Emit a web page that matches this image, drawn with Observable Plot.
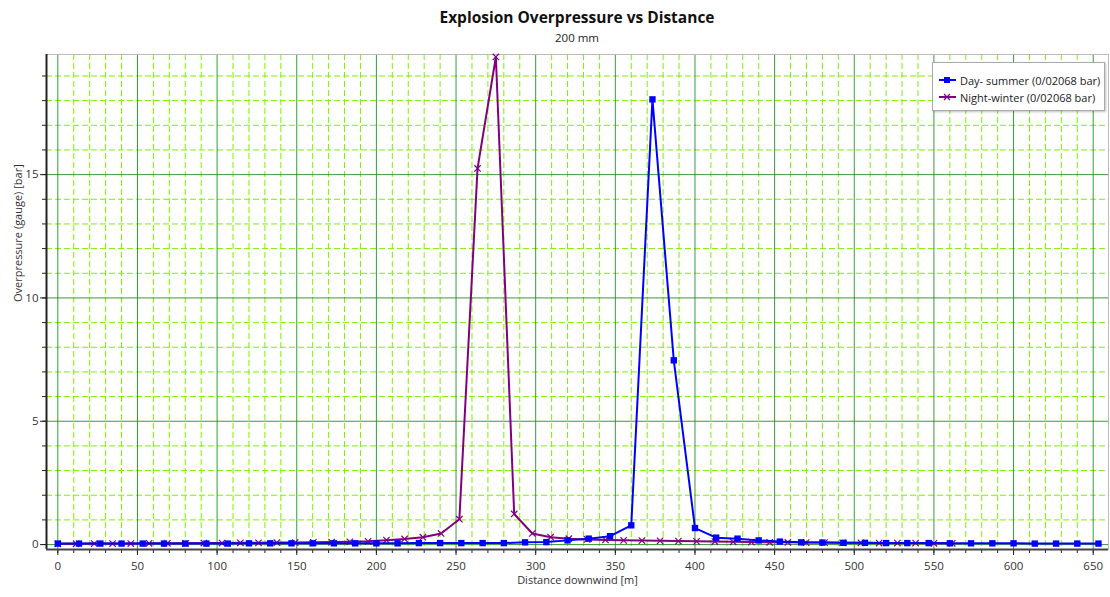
<!DOCTYPE html>
<html>
<head>
<meta charset="utf-8">
<script src="https://cdn.jsdelivr.net/npm/d3@7"></script>
<script src="https://cdn.jsdelivr.net/npm/@observablehq/plot@0.6"></script>
<style>
  html, body { margin: 0; padding: 0; background: #fff; }
  #wrap { position: relative; width: 1110px; height: 597px; font-family: "Open Sans", "Noto Sans", sans-serif; }
  #title { position: absolute; left: 46px; width: 1062px; top: 6px; text-align: center; font-weight: 700; font-size: 15.5px; color: #111; line-height: 22px; }
  #subtitle { position: absolute; left: 46px; width: 1062px; top: 30px; text-align: center; font-size: 11.5px; color: #222; line-height: 16px; }
  #chart { position: absolute; left: 0; top: 48px; }
  #legend { position: absolute; left: 932px; top: 62px; width: 171px; height: 47px; border: 1px solid #aaa; background: #fff; box-shadow: 1px 1px 2px rgba(0,0,0,0.25); font-size: 11px; color: #222; }
  .item { position: absolute; left: 6px; height: 16px; display: flex; align-items: center; }
  .item svg { margin-right: 4px; }
</style>
</head>
<body>
<div id="wrap">
  <div id="title"></div>
  <div id="subtitle"></div>
  <div id="chart"></div>
  <div id="legend"></div>
</div>
<script>
const titleText = "Explosion Overpressure vs Distance";
const subtitleText = "200 mm";
const xLabel = "Distance downwind [m]";
const yLabel = "Overpressure (gauge) [bar]";
const seriesNames = ["Day- summer (0/02068 bar)", "Night-winter (0/02068 bar)"];
const seriesColors = ["#0000ff", "#800080"];

const xDay = [0,13.3,26.7,40,53.3,66.7,80,93.3,106.7,120,133.3,146.7,160,173.3,186.7,200,213.3,226.7,240,253.3,266.7,280,293.3,306.7,320,333.3,346.7,360,373.3,386.7,400,413.3,426.7,440,453.3,466.7,480,493.3,506.7,520,533.3,546.7,560,573.3,586.7,600,613.3,626.7,640,653.3];
const yDay = [0.04,0.04,0.04,0.04,0.04,0.04,0.04,0.04,0.04,0.05,0.05,0.05,0.05,0.05,0.05,0.05,0.05,0.06,0.06,0.06,0.06,0.06,0.09,0.1,0.17,0.24,0.34,0.78,18.05,7.47,0.67,0.28,0.24,0.17,0.12,0.09,0.08,0.07,0.07,0.06,0.06,0.06,0.05,0.05,0.05,0.05,0.04,0.04,0.04,0.04];

const xNight = [0,11.5,22.9,34.4,45.8,57.3,68.8,80.2,91.7,103.1,114.6,126,137.5,149,160.4,171.9,183.3,194.8,206.3,217.7,229.2,240.6,252.1,263.5,275,286.5,297.9,309.4,320.8,332.3,343.8,355.2,366.7,378.1,389.6,401,412.5,424,435.4,446.9,458.3,469.8,481.3,492.7,504.2,515.6,527.1,538.5,550,561.5];
const yNight = [0.03,0.03,0.04,0.04,0.04,0.05,0.05,0.05,0.06,0.06,0.07,0.07,0.08,0.08,0.09,0.1,0.11,0.13,0.18,0.23,0.3,0.45,1.03,15.25,19.77,1.24,0.45,0.3,0.24,0.21,0.19,0.17,0.16,0.15,0.14,0.13,0.12,0.11,0.1,0.09,0.09,0.08,0.08,0.07,0.07,0.06,0.06,0.06,0.05,0.05];

const xTicks = [0,50,100,150,200,250,300,350,400,450,500,550,600,650];
const yTicks = [0,5,10,15];
const xDomain = [-7.1, 659.6];
const yDomain = [-0.2, 19.87];

const day = xDay.map((x, i) => ({x, y: yDay[i]}));
const night = xNight.map((x, i) => ({x, y: yNight[i]}));

const xMinor = d3.range(0, 660, 10).filter(v => v % 50 !== 0);
const yMinor = d3.range(0, 20, 1).filter(v => v % 5 !== 0);
const xAllTicks = d3.range(0, 660, 10);
const yAllTicks = d3.range(0, 20, 1);

document.getElementById("title").textContent = titleText;
document.getElementById("subtitle").textContent = subtitleText;

const chart = Plot.plot({
  width: 1110,
  height: 549,
  marginTop: 6,
  marginBottom: 48,
  marginLeft: 46,
  marginRight: 2,
  style: { fontFamily: "'Open Sans', 'Noto Sans', sans-serif", fontSize: "11px", color: "#333", background: "white" },
  x: { domain: xDomain, label: null },
  y: { domain: yDomain, label: null },
  marks: [
    Plot.ruleX(xMinor, { stroke: "#7ff000", strokeWidth: 1, strokeDasharray: "6,3" }),
    Plot.ruleY(yMinor, { stroke: "#7ff000", strokeWidth: 1, strokeDasharray: "6,3" }),
    Plot.ruleX(xTicks, { stroke: "#168a16", strokeWidth: 1, strokeOpacity: 0.85 }),
    Plot.ruleY(yTicks, { stroke: "#168a16", strokeWidth: 1, strokeOpacity: 0.85 }),
    Plot.frame({ stroke: "#bbb" }),
    Plot.axisX(xAllTicks, { tickSize: 4, text: null, stroke: "#222" }),
    Plot.axisX(xTicks, { tickSize: 6, tickPadding: 6, stroke: "#222", fill: "#333", label: null, fontSize: 11.5 }),
    Plot.axisY(yAllTicks, { tickSize: 4, text: null, stroke: "#222" }),
    Plot.axisY(yTicks, { tickSize: 6, tickPadding: 2, stroke: "#222", fill: "#333", label: null, fontSize: 11.5 }),
    Plot.ruleX([xDomain[0]], { stroke: "#222", strokeWidth: 2 }),
    Plot.ruleY([yDomain[0]], { stroke: "#444", strokeWidth: 2 }),
    Plot.line(night, { x: "x", y: "y", stroke: seriesColors[1], strokeWidth: 2 }),
    Plot.dot(night, { x: "x", y: "y", symbol: "times", r: 3, stroke: seriesColors[1], strokeWidth: 1.2 }),
    Plot.line(day, { x: "x", y: "y", stroke: seriesColors[0], strokeWidth: 2 }),
    Plot.dot(day, { x: "x", y: "y", symbol: "square", r: 3.6, fill: seriesColors[0], stroke: null }),
    Plot.text([xLabel], { frameAnchor: "bottom", dy: 34, fontSize: 11, fill: "#333" }),
    Plot.text([yLabel], { frameAnchor: "left", dx: -28, rotate: -90, fontSize: 11, fill: "#333" })
  ]
});
document.getElementById("chart").appendChild(chart);

const legend = document.getElementById("legend");
seriesNames.forEach((name, i) => {
  const item = document.createElement("div");
  item.className = "item";
  item.style.top = (i === 0 ? 9 : 26) + "px";
  const sym = i === 0
    ? `<rect x="5" y="3" width="6" height="6" fill="${seriesColors[0]}"/>`
    : `<path d="M5,3 L11,9 M11,3 L5,9" stroke="${seriesColors[1]}" stroke-width="1.2"/>`;
  item.innerHTML = `<svg width="17" height="12"><line x1="0" x2="17" y1="6" y2="6" stroke="${seriesColors[i]}" stroke-width="2"/>${sym}</svg><span>${name}</span>`;
  legend.appendChild(item);
});
</script>
</body>
</html>
